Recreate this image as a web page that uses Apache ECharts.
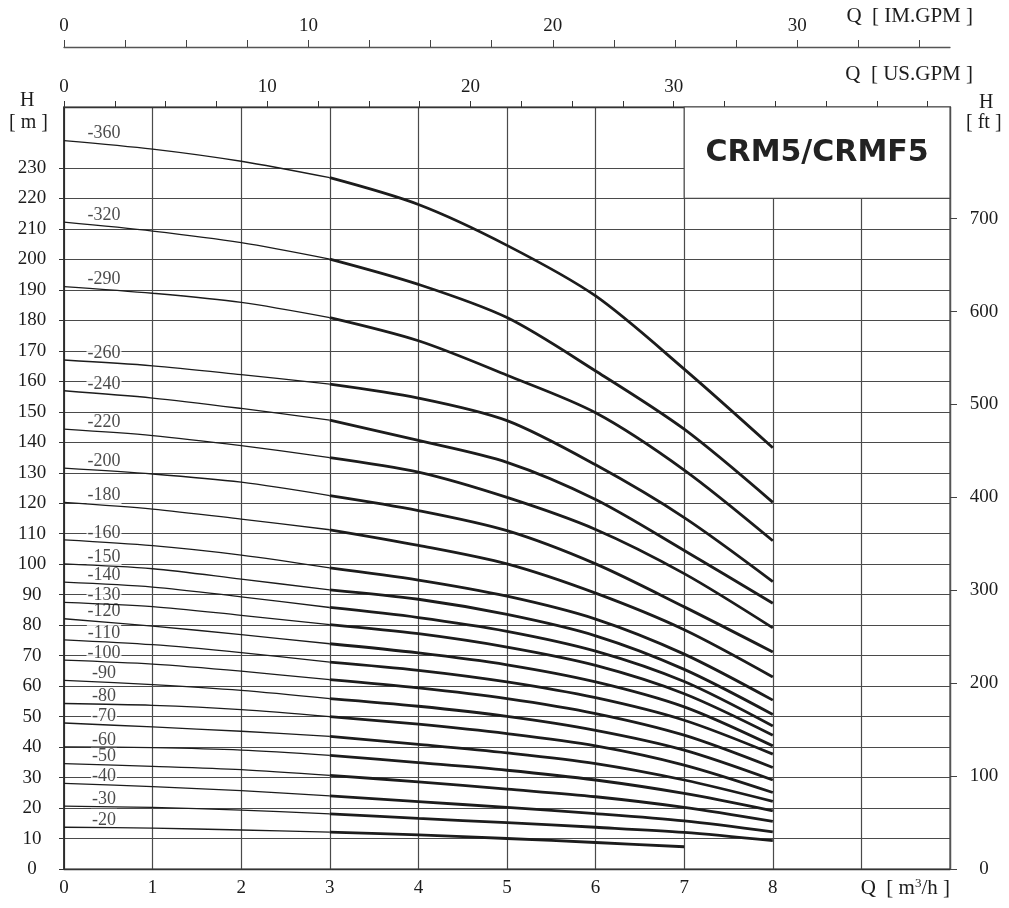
<!DOCTYPE html>
<html><head><meta charset="utf-8">
<script src="https://cdn.jsdelivr.net/npm/echarts@6/dist/echarts.min.js"></script>
<style>html,body{margin:0;padding:0;background:#fff}#c{width:1009px;height:908px}</style>
</head><body><div id="c"></div>
<script>
// Flow rate points, m3/h
const flowQ = [0, 1, 2, 3, 4, 5, 6, 7, 8];
// Head (m) for each pump model, read at flowQ
const h360 = [239.0, 236.2, 232.2, 226.8, 218.0, 204.6, 188.0, 164.0, 138.2];
const h320 = [212.2, 209.3, 205.5, 200.1, 191.8, 180.9, 163.4, 144.3, 120.3];
const h290 = [191.1, 188.9, 185.9, 180.9, 173.3, 162.0, 149.7, 130.9, 107.7];
const h260 = [167.0, 165.1, 162.2, 159.1, 154.5, 147.1, 132.6, 115.3, 94.3];
const h240 = [156.9, 154.5, 151.1, 147.3, 140.6, 133.4, 121.2, 104.5, 87.2];
const h220 = [144.3, 142.2, 138.9, 135.0, 130.2, 121.9, 111.4, 96.9, 79.1];
const h200 = [131.5, 129.6, 126.9, 122.5, 117.6, 111.0, 100.1, 86.0, 71.2];
const h180 = [120.3, 118.1, 114.8, 111.3, 106.2, 100.1, 90.5, 78.5, 63.0];
const h160 = [108.0, 106.1, 103.0, 98.8, 94.8, 89.5, 82.0, 70.5, 55.4];
const h150 = [100.1, 98.5, 95.1, 91.6, 88.5, 83.5, 76.5, 65.5, 50.7];
const h140 = [94.1, 92.5, 89.3, 85.8, 82.5, 78.0, 71.5, 61.5, 46.9];
const h130 = [87.5, 86.1, 83.2, 80.2, 77.2, 72.8, 66.8, 57.5, 43.9];
const h120 = [82.1, 79.7, 76.9, 73.9, 70.9, 67.0, 61.4, 53.2, 40.4];
const h110 = [75.2, 73.6, 71.0, 67.9, 65.2, 61.4, 56.2, 48.8, 37.7];
const h100 = [68.5, 67.2, 64.9, 62.1, 59.4, 55.9, 51.0, 43.9, 33.3];
const h90  = [61.9, 60.5, 58.6, 55.9, 53.4, 50.1, 45.5, 39.0, 29.2];
const h80  = [54.3, 53.7, 52.3, 50.0, 47.5, 44.4, 40.4, 34.1, 25.1];
const h70  = [47.9, 46.6, 45.2, 43.5, 40.9, 38.1, 34.6, 29.2, 22.2];
const h60  = [40.1, 39.8, 39.0, 37.3, 34.9, 32.4, 29.2, 24.8, 19.1];
const h50  = [34.6, 33.7, 32.6, 30.7, 28.6, 26.2, 23.7, 20.2, 15.6];
const h40  = [28.1, 27.0, 25.7, 24.0, 22.1, 20.2, 18.2, 15.8, 12.2];
const h30  = [20.6, 20.2, 19.3, 18.1, 16.6, 15.2, 13.7, 12.0, 9.3];
const h20  = [13.7, 13.4, 12.8, 12.1, 11.2, 10.0, 8.7, 7.3];

const modelNames = ['-360','-320','-290','-260','-240','-220','-200','-180','-160','-150','-140','-130','-120','-110','-100','-90','-80','-70','-60','-50','-40','-30','-20'];
const modelHeads = [h360,h320,h290,h260,h240,h220,h200,h180,h160,h150,h140,h130,h120,h110,h100,h90,h80,h70,h60,h50,h40,h30,h20];

// Axis tick labels
const qLabels = [0, 1, 2, 3, 4, 5, 6, 7, 8];
const hmLabels = [0,10,20,30,40,50,60,70,80,90,100,110,120,130,140,150,160,170,180,190,200,210,220,230];
const hftLabels = [0, 100, 200, 300, 400, 500, 600, 700];
const usLabels = [0, 10, 20, 30];
const imLabels = [0, 10, 20, 30];
const usTicks = [0,2.5,5,7.5,10,12.5,15,17.5,20,22.5,25,27.5,30,32.5,35,37.5,40,42.5];
const imTicks = [0,2.5,5,7.5,10,12.5,15,17.5,20,22.5,25,27.5,30,32.5,35];
const titleText = 'CRM5/CRMF5';

const SERIF = 'Liberation Serif';
const INK = '#1c1c1c';
const GRID = '#4a4a4a';

const series = [];
// curve labels
series.push({
  type: 'scatter', silent: true, z: 2, symbolSize: 0,
  data: modelNames.map((n, i) => ({ name: n, value: [flowQ[0], modelHeads[i][0]] })),
  label: {
    show: true, position: 'inside', formatter: '{b}', offset: [40, -7],
    fontFamily: SERIF, fontSize: 18, color: INK, backgroundColor: '#fff', padding: [0, 1, 0, 1]
  }
});
modelHeads.forEach((h) => {
  const pts = h.map((v, i) => [flowQ[i], v]);
  series.push({ type: 'line', data: pts.slice(0, 4), smooth: 0.3, symbol: 'none', silent: true, z: 4,
    lineStyle: { width: 1.3, color: INK } });
  series.push({ type: 'line', data: pts.slice(3), smooth: 0.3, symbol: 'none', silent: true, z: 4,
    lineStyle: { width: 2.8, color: INK } });
});
// title box
series.push({
  type: 'line', data: [], z: 5, silent: true,
  markArea: {
    silent: true,
    itemStyle: { color: '#fff', borderColor: GRID, borderWidth: 1.2 },
    label: { show: true, position: 'inside', formatter: titleText, fontFamily: 'DejaVu Sans', fontWeight: 'bold', fontSize: 30, color: '#222' },
    data: [[{ coord: [7, 220] }, { coord: [10, 250] }]]
  }
});

const chart = echarts.init(document.getElementById('c'), null, { renderer: 'canvas' });
chart.setOption({
  animation: false,
  backgroundColor: '#fff',
  grid: { left: 64, right: 59, top: 107, bottom: 39, show: true, borderColor: GRID, borderWidth: 1.2, backgroundColor: 'transparent' },
  xAxis: [
    { type: 'value', min: 0, max: 10, interval: 1, position: 'bottom',
      axisLine: { show: true, onZero: false, lineStyle: { color: '#333', width: 1.3 } },
      axisTick: { show: false },
      axisLabel: { customValues: qLabels, fontFamily: SERIF, fontSize: 19, color: INK, margin: 10 },
      splitLine: { show: true, lineStyle: { color: GRID, width: 1.2 } } },
    { type: 'value', min: 0, max: 43.6, position: 'top', offset: 0,
      axisLine: { show: true, onZero: false, lineStyle: { color: '#333', width: 1.3 } },
      axisTick: { show: true, inside: false, length: 6, customValues: usTicks, lineStyle: { color: '#333' } },
      axisLabel: { customValues: usLabels, fontFamily: SERIF, fontSize: 19, color: INK, margin: 10 },
      splitLine: { show: false } },
    { type: 'value', min: 0, max: 36.25, position: 'top', offset: 60,
      axisLine: { show: true, onZero: false, lineStyle: { color: '#555', width: 1.3 } },
      axisTick: { show: true, inside: false, length: 7, customValues: imTicks, lineStyle: { color: '#444' } },
      axisLabel: { customValues: imLabels, fontFamily: SERIF, fontSize: 19, color: INK, margin: 11 },
      splitLine: { show: false } }
  ],
  yAxis: [
    { type: 'value', min: 0, max: 250, interval: 10, position: 'left',
      axisLine: { show: true, onZero: false, lineStyle: { color: '#222', width: 1.5 } },
      axisTick: { show: true, inside: false, length: 5, customValues: hmLabels, lineStyle: { color: '#333' } },
      axisLabel: { customValues: hmLabels, align: 'center', margin: 32, fontFamily: SERIF, fontSize: 19, color: INK },
      splitLine: { show: true, lineStyle: { color: GRID, width: 1.2 } } },
    { type: 'value', min: 0, max: 250 / 0.3048, position: 'right',
      axisLine: { show: true, onZero: false, lineStyle: { color: '#555', width: 1.3 } },
      axisTick: { show: true, inside: false, length: 7, customValues: hftLabels, lineStyle: { color: '#444' } },
      axisLabel: { customValues: hftLabels, align: 'center', margin: 34, fontFamily: SERIF, fontSize: 19, color: INK },
      splitLine: { show: false } }
  ],
  graphic: [
    { type: 'text', left: 20, top: 91, style: { text: 'H', font: '20px "Liberation Serif"', fill: INK } },
    { type: 'text', left: 9, top: 113, style: { text: '[ m ]', font: '20px "Liberation Serif"', fill: INK } },
    { type: 'text', left: 979, top: 93, style: { text: 'H', font: '20px "Liberation Serif"', fill: INK } },
    { type: 'text', left: 966, top: 113, style: { text: '[ ft ]', font: '20px "Liberation Serif"', fill: INK } },
    { type: 'text', right: 36, top: 6, style: { text: 'Q  [ IM.GPM ]', font: '21px "Liberation Serif"', fill: INK } },
    { type: 'text', right: 36, top: 64, style: { text: 'Q  [ US.GPM ]', font: '21px "Liberation Serif"', fill: INK } },
    { type: 'text', right: 59, top: 877, style: {
        text: 'Q  [ m{sup|3}/h ]', font: '21px "Liberation Serif"', fill: INK,
        rich: { sup: { fontSize: 13, fontFamily: SERIF, fill: INK, padding: [0, 0, 9, 0] } } } }
  ],
  series: series
});
</script></body></html>
